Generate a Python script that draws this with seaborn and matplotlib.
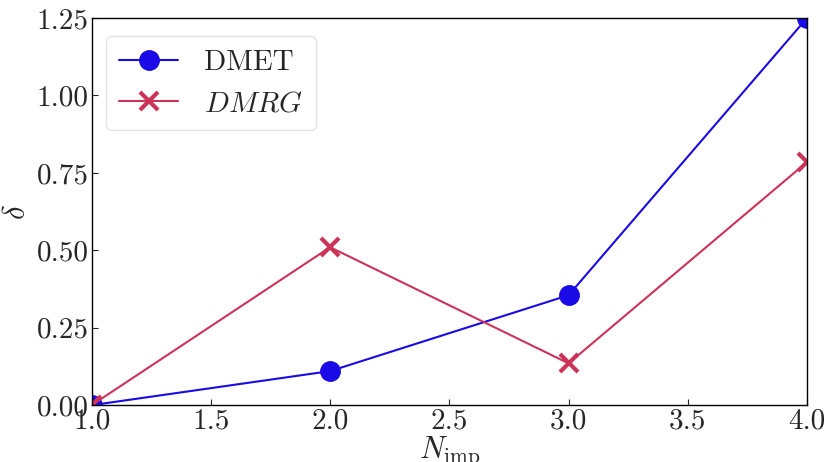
import matplotlib
matplotlib.use("Agg")
import matplotlib.pyplot as plt
import seaborn as sns
import pandas as pd

n_imp = [1.0, 2.0, 3.0, 4.0]
dmet = [0.0, 0.11, 0.355, 1.25]
dmrg = [0.0, 0.51, 0.135, 0.785]
labels = ["DMET", r"$DMRG$"]

sns.set_style("white")
plt.rcParams["font.family"] = "serif"
plt.rcParams["font.serif"] = ["cmr10", "DejaVu Serif"]
plt.rcParams["mathtext.fontset"] = "cm"
plt.rcParams["axes.formatter.use_mathtext"] = True
plt.rcParams["axes.unicode_minus"] = False

fig, ax = plt.subplots(figsize=(8.26, 4.62), dpi=100)
fig.subplots_adjust(left=0.111, right=0.977, top=0.961, bottom=0.123)

c1, c2 = "#1a0ae6", "#cc3358"
df1 = pd.DataFrame({"x": n_imp, "y": dmet})
df2 = pd.DataFrame({"x": n_imp, "y": dmrg})
sns.lineplot(data=df1, x="x", y="y", ax=ax, color=c1,
             marker="o", markersize=14, markeredgecolor=c1, markeredgewidth=1,
             linewidth=1.5, label=labels[0])
sns.lineplot(data=df2, x="x", y="y", ax=ax, color=c2,
             marker="x", markersize=13, markeredgecolor=c2, markeredgewidth=3,
             linewidth=1.5, label=labels[1])

ax.set_xlim(1.0, 4.0)
ax.set_ylim(0.0, 1.25)
xt = [1.0, 1.5, 2.0, 2.5, 3.0, 3.5, 4.0]
yt = [0.0, 0.25, 0.5, 0.75, 1.0, 1.25]
ax.set_xticks(xt)
ax.set_yticks(yt)
ax.set_xticklabels([f"{v:.1f}" for v in xt])
ax.set_yticklabels([f"{v:.2f}" for v in yt])
ax.tick_params(direction="in", labelsize=21, length=4, width=0.8, pad=2,
               bottom=True, left=True)
for sp in ax.spines.values():
    sp.set_color("black")
    sp.set_linewidth(1.0)
ax.set_xlabel(r"$N_{\rm imp}$", fontsize=22, labelpad=0)
ax.set_ylabel(r"$\delta$", fontsize=22, labelpad=4)
leg = ax.legend(loc="upper left", fontsize=21, frameon=True, borderpad=0.45,
                handlelength=2.0, handletextpad=0.9, bbox_to_anchor=(0.0, 0.99))
leg.get_frame().set_edgecolor("#dddddd")

fig.savefig("out.png", dpi=100)
